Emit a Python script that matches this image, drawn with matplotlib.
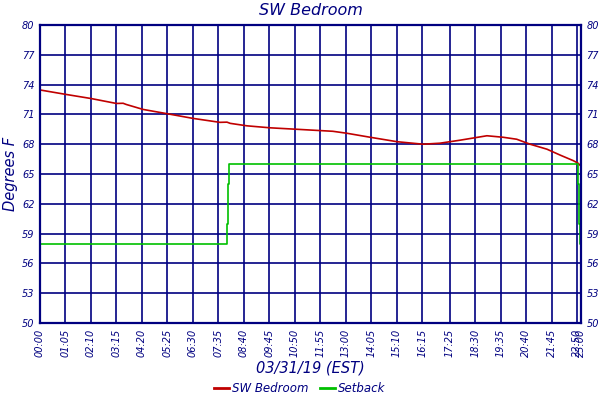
import matplotlib
matplotlib.use("Agg")
import matplotlib.pyplot as plt

NAVY = "#000080"
RED = "#c00000"
GREEN = "#00c000"

# x tick labels (time of day), axis runs 00:00 .. 23:00
tick_labels = ["00:00", "01:05", "02:10", "03:15", "04:20", "05:25", "06:30",
               "07:35", "08:40", "09:45", "10:50", "11:55", "13:00", "14:05",
               "15:10", "16:15", "17:25", "18:30", "19:35", "20:40", "21:45",
               "22:50", "23:00"]

# SW Bedroom temperature readings
temp_times = ["00:00", "01:05", "02:10", "03:15", "03:32", "03:40", "04:23",
              "05:27", "06:30", "07:39", "07:57", "08:05", "08:48", "09:47",
              "10:56", "12:27", "13:03", "14:02", "15:11", "16:17", "17:00",
              "17:51", "19:00", "19:41", "20:16", "20:50", "21:33", "22:07",
              "22:40", "22:52", "23:00"]
temp_vals = [73.46, 73.02, 72.6, 72.1, 72.12, 72.0, 71.5,
             71.05, 70.6, 70.2, 70.22, 70.1, 69.85, 69.65,
             69.5, 69.3, 69.1, 68.7, 68.25, 68.0, 68.1,
             68.4, 68.85, 68.7, 68.5, 68.0, 67.5, 66.9,
             66.35, 66.1, 65.8]

# Setback schedule (step changes)
setback_times = ["00:00", "07:58", "08:00", "08:03", "22:52", "22:56", "22:58", "23:00"]
setback_vals = [58, 60, 64, 66, 64, 60, 58, 58]

y_ticks = [50, 53, 56, 59, 62, 65, 68, 71, 74, 77, 80]


def to_min(t):
    h, m = t.split(":")
    return int(h) * 60 + int(m)


tick_pos = [to_min(t) for t in tick_labels]
tx = [to_min(t) for t in temp_times]
sx = [to_min(t) for t in setback_times]

fig = plt.figure(figsize=(6, 4), dpi=100)
ax = fig.add_axes([40 / 600, 1 - 323 / 400, 541 / 600, 298 / 400])

ax.set_xlim(0, 1380)
ax.set_ylim(50, 80)

ax.set_xticks(tick_pos)
ax.set_xticklabels(tick_labels, rotation=90, fontsize=7, style="italic", color=NAVY)
ax.set_yticks(y_ticks)
ax.set_yticklabels([str(v) for v in y_ticks], fontsize=7, style="italic", color=NAVY)
ax.tick_params(axis="x", length=0, pad=4)
ax.tick_params(axis="y", length=0, labelright=True, right=False, pad=4)

ax.grid(True, color=NAVY, linewidth=1.2)
ax.set_axisbelow(True)
for s in ax.spines.values():
    s.set_color(NAVY)
    s.set_linewidth(1.6)

ax.plot(tx, temp_vals, color=RED, linewidth=1.2, label="SW Bedroom")
ax.plot(sx, setback_vals, color=GREEN, linewidth=1.2, drawstyle="steps-post", label="Setback")

ax.set_title("SW Bedroom", fontsize=11.5, style="italic", color=NAVY, pad=7)
ax.set_ylabel("Degrees F", fontsize=10.5, style="italic", color=NAVY, va="center")
ax.yaxis.set_label_coords(-0.054, 0.5)
ax.set_xlabel("03/31/19 (EST)", fontsize=10.5, style="italic", color=NAVY, labelpad=3)

leg = fig.legend(loc="center", bbox_to_anchor=(0.5, 1 - 389 / 400), ncol=2, frameon=False,
                 fontsize=8.5, handlelength=1.2, handletextpad=0.3, columnspacing=1.0)
for line in leg.get_lines():
    line.set_linewidth(2)
for txt in leg.get_texts():
    txt.set_color(NAVY)
    txt.set_style("italic")

fig.savefig("out.png", dpi=100)
